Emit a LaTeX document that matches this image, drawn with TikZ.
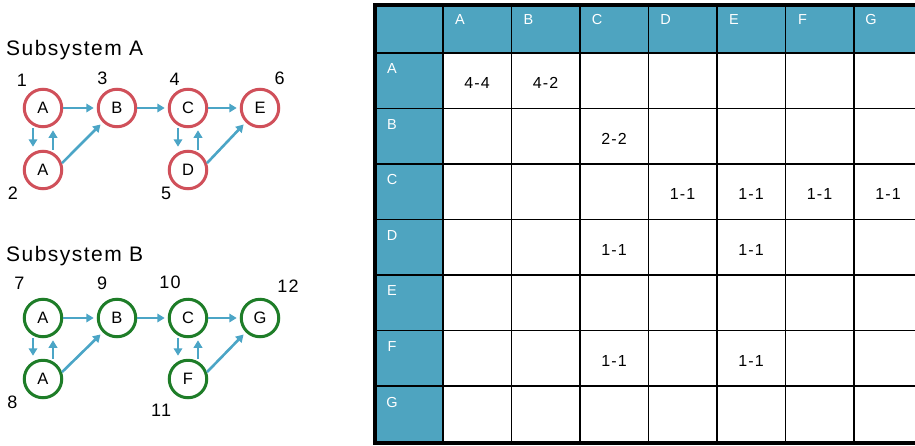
\documentclass[tikz,border=0pt]{standalone}
\usepackage{fontspec}
\setmainfont{Liberation Sans}[LetterSpace=7]
\usetikzlibrary{arrows.meta}
\definecolor{unitred}{RGB}{208,80,90}
\definecolor{unitgreen}{RGB}{30,125,40}
\definecolor{linkblue}{RGB}{75,165,198}
\definecolor{headblue}{RGB}{78,164,192}
\tikzset{
  unit/.style={
    shape = circle,
    draw,
    line width = 3pt,
    minimum size = 37.5pt,
    inner sep = 0pt,
    fill = white,
    font = \fontsize{16.5}{16.5}\selectfont
  },
  unitA/.style={unit, draw = unitred},
  unitB/.style={unit, draw = unitgreen},
  num/.style={
    inner sep = 0pt,
    font = \fontsize{18}{18}\selectfont
  },
  link/.style={
    draw = linkblue,
    line width = 2.6pt,
    -{Triangle[length=7.5pt,width=8.5pt]},
    shorten > = 3pt
  },
  title/.style={
    anchor = base west,
    inner sep = 0pt,
    font = \fontsize{21}{21}\selectfont
  },
  grid/.style={line width = 1.8pt},
  frame/.style={line width = 4pt},
  colhead/.style={
    text = white,
    inner sep = 0pt,
    font = \fontsize{14.5}{14.5}\selectfont
  },
  rowhead/.style={colhead},
  entry/.style={
    inner sep = 0pt,
    font = \fontsize{16}{16}\selectfont
  }
}
\begin{document}
\begin{tikzpicture}[x=1pt,y=-1pt]
    \useasboundingbox (0,0) rectangle (915,445);
    \clip (0,0) rectangle (915,445);
    % subsystem A
    \node[title] (titleA) at (6,55) {Subsystem A};
    \node[unitA,label={[num,label distance=6.2pt]127:1}] (sA1) at (43,108) {A};
    \node[unitA,label={[num,label distance=9.8pt]214:2}] (sA2) at (43,170) {A};
    \node[unitA,label={[num,label distance=4.6pt]112:3}] (sB) at (117,108) {B};
    \node[unitA,label={[num,label distance=3.9pt]110:4}] (sC) at (188,108) {C};
    \node[unitA,label={[num,label distance=3.2pt]225:5}] (sD) at (188,170) {D};
    \node[unitA,label={[num,label distance=7.2pt]58:6}] (sE) at (260,108) {E};
    \draw[link] (sA1) -- (sB);
    \draw[link] (sB) -- (sC);
    \draw[link] (sC) -- (sE);
    \draw[link] ([xshift=-10pt]sA1.south) -- ([xshift=-10pt]sA2.north);
    \draw[link,shorten >=2pt] ([xshift=10pt]sA2.north) -- ([xshift=10pt]sA1.south);
    \draw[link] ([xshift=-10pt]sC.south) -- ([xshift=-10pt]sD.north);
    \draw[link,shorten >=2pt] ([xshift=10pt]sD.north) -- ([xshift=10pt]sC.south);
    \draw[link] (sA2.20) -- (sB.225);
    \draw[link] (sD.20) -- (sE.225);
    % subsystem B
    \node[title] (titleB) at (6,261.5) {Subsystem B};
    \node[unitB,label={[num,label distance=13.5pt]123:7}] (tA1) at (43,318) {A};
    \node[unitB,label={[num,label distance=10.2pt]213:8}] (tA2) at (43,379) {A};
    \node[unitB,label={[num,label distance=9.4pt]109:9}] (tB) at (117,318) {B};
    \node[unitB,label={[num,label distance=9.5pt]104:10}] (tC) at (188,318) {C};
    \node[unitB,label={[num,label distance=9.5pt]236:11}] (tF) at (188,379) {F};
    \node[unitB,label={[num,label distance=10.5pt]56:12}] (tG) at (260,318) {G};
    \draw[link] (tA1) -- (tB);
    \draw[link] (tB) -- (tC);
    \draw[link] (tC) -- (tG);
    \draw[link] ([xshift=-10pt]tA1.south) -- ([xshift=-10pt]tA2.north);
    \draw[link,shorten >=2pt] ([xshift=10pt]tA2.north) -- ([xshift=10pt]tA1.south);
    \draw[link] ([xshift=-10pt]tC.south) -- ([xshift=-10pt]tF.north);
    \draw[link,shorten >=2pt] ([xshift=10pt]tF.north) -- ([xshift=10pt]tC.south);
    \draw[link] (tA2.20) -- (tB.225);
    \draw[link] (tF.20) -- (tG.225);
    % matrix
    \fill[headblue] (374.5,4.5) rectangle (915,53);
    \fill[headblue] (374.5,53) rectangle (443,442.5);
    \foreach \i in {0,...,6}{
        \draw[grid] (374.5,{53+55.5*\i}) -- (915,{53+55.5*\i});
        \draw[grid] ({443+68.5*\i},4.5) -- ({443+68.5*\i},442.5);
    }
    \draw[frame] (915,4.5) -- (374.5,4.5) -- (374.5,442.5) -- (915,442.5);
    \foreach \l [count=\i from 0] in {A,B,C,D,E,F,G}{
        \node[colhead] (col\l) at ({460+68.5*\i},20) {\l};
        \node[rowhead] (row\l) at (392,{69+55.5*\i}) {\l};
    }
    \foreach \r/\c/\v in {0/0/4-4, 0/1/4-2, 1/2/2-2, 2/3/1-1, 2/4/1-1, 2/5/1-1,
                          2/6/1-1, 3/2/1-1, 3/4/1-1, 5/2/1-1, 5/4/1-1}{
        \node[entry] (v\r\c) at ({477+68.5*\c},{83+55.5*\r}) {\v};
    }
\end{tikzpicture}
\end{document}
